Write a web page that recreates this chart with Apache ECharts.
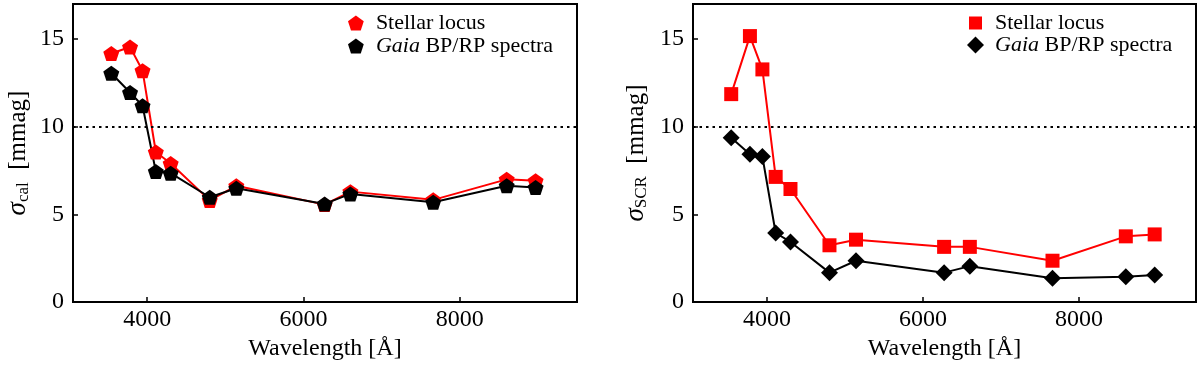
<!DOCTYPE html>
<html>
<head>
<meta charset="utf-8">
<script src="https://cdn.jsdelivr.net/npm/echarts@6/dist/echarts.min.js"></script>
<style>
html,body{margin:0;padding:0;background:#fff;}
#chart{width:1200px;height:366px;}
</style>
</head>
<body>
<div id="chart"></div>
<script>
// ---- data ----
const wavelengths = [3540, 3780, 3940, 4110, 4300, 4800, 5140, 6270, 6600, 7660, 8600, 8970];
const calStellar = [14.18, 14.55, 13.2, 8.56, 7.9, 5.8, 6.63, 5.56, 6.3, 5.83, 7.0, 6.92];
const calGaia = [13.05, 11.95, 11.2, 7.45, 7.35, 5.98, 6.49, 5.6, 6.17, 5.7, 6.63, 6.54];
const scrStellar = [11.86, 15.17, 13.27, 7.14, 6.45, 3.24, 3.56, 3.15, 3.15, 2.36, 3.75, 3.86];
const scrGaia = [9.37, 8.43, 8.3, 3.94, 3.43, 1.68, 2.36, 1.68, 2.05, 1.36, 1.45, 1.54];
const xTicks = [4000, 6000, 8000];
const yTicks = [0, 5, 10, 15];
const threshold = 10;
const seriesNames = ['Stellar locus', 'Gaia BP/RP spectra'];

const FONT = 'Liberation Serif';
const PENT = 'path://M0,-1L0.951,-0.309L0.588,0.809L-0.588,0.809L-0.951,-0.309Z';

function pairs(xs, ys) { return xs.map((x, i) => [x, ys[i]]); }

function xAxisFor(gi) {
  return {
    gridIndex: gi, type: 'value', min: 3050, max: 9500,
    axisLine: {show: true, lineStyle: {color: '#000', width: 2}},
    axisTick: {show: true, inside: true, length: 5, customValues: xTicks, lineStyle: {color: '#000', width: 1.5}},
    axisLabel: {customValues: xTicks, margin: 6, color: '#000', fontFamily: FONT, fontSize: 24, formatter: v => String(v)},
    splitLine: {show: false},
    name: 'Wavelength [Å]', nameLocation: 'middle', nameGap: 30,
    nameTextStyle: {color: '#000', fontFamily: FONT, fontSize: 24}
  };
}
function yAxisFor(gi, sub, gap) {
  return {
    gridIndex: gi, type: 'value', min: 0, max: 17,
    axisLine: {show: true, lineStyle: {color: '#000', width: 2}},
    axisTick: {show: true, inside: true, length: 5, customValues: yTicks, lineStyle: {color: '#000', width: 1.5}},
    axisLabel: {customValues: yTicks, margin: 9, color: '#000', fontFamily: FONT, fontSize: 24, formatter: v => String(v)},
    splitLine: {show: false},
    name: '{s|σ}{sub|' + sub + '}  [mmag]', nameLocation: 'middle', nameRotate: 90, nameGap: gap,
    nameTextStyle: {
      color: '#000', fontFamily: FONT, fontSize: 25,
      rich: {
        s: {fontFamily: FONT, fontSize: 27, fontStyle: 'italic', color: '#000'},
        sub: {fontFamily: FONT, fontSize: 17, color: '#000', padding: [11, 0, 0, 0]}
      }
    }
  };
}
const markLine = {
  silent: true, symbol: ['none', 'none'], label: {show: false},
  lineStyle: {color: '#000', width: 2, type: [2.5, 4]},
  data: [{yAxis: threshold}]
};
function legendFor(name, icon, left, top, w, h, pad) {
  return {
    data: [{name: name, icon: icon}], orient: 'vertical', left: left, top: top,
    padding: 0, itemWidth: w, itemHeight: h, selectedMode: false,
    formatter: n => n === seriesNames[1] ? '{i|Gaia} BP/RP spectra' : n,
    textStyle: {
      color: '#000', fontFamily: FONT, fontSize: 22, lineHeight: 22, padding: [0, 0, 0, pad],
      rich: {i: {fontFamily: FONT, fontSize: 22, fontStyle: 'italic', color: '#000'}}
    }
  };
}
function lineSeries(name, gi, data, color, symbol, size, extra) {
  return Object.assign({
    name: name, type: 'line', xAxisIndex: gi, yAxisIndex: gi,
    data: data, symbol: symbol, symbolSize: size, showSymbol: true,
    lineStyle: {color: color, width: 2}, itemStyle: {color: color},
    emphasis: {disabled: true}
  }, extra || {});
}

const chart = echarts.init(document.getElementById('chart'), null, {renderer: 'canvas'});
chart.setOption({
  animation: false,
  backgroundColor: '#fff',
  grid: [
    {left: 73, top: 4, width: 504, height: 300, show: true, borderColor: '#000', borderWidth: 2, backgroundColor: 'transparent'},
    {left: 693, top: 4, width: 503, height: 300, show: true, borderColor: '#000', borderWidth: 2, backgroundColor: 'transparent'}
  ],
  xAxis: [xAxisFor(0), xAxisFor(1)],
  yAxis: [yAxisFor(0, 'cal', 41), yAxisFor(1, 'SCR', 43)],
  legend: [
    legendFor(seriesNames[0], PENT, 348, 12, 16, 15, 7),
    legendFor(seriesNames[1], PENT, 348, 35, 16, 15, 7),
    legendFor(seriesNames[0], 'rect', 969, 12, 13, 13, 8),
    legendFor(seriesNames[1], 'diamond', 967, 34, 17, 17, 6)
  ],
  series: [
    lineSeries(seriesNames[0], 0, pairs(wavelengths, calStellar), '#ff0000', PENT, [16, 15], {markLine: markLine}),
    lineSeries(seriesNames[1], 0, pairs(wavelengths, calGaia), '#000000', PENT, [16, 15]),
    lineSeries(seriesNames[0], 1, pairs(wavelengths, scrStellar), '#ff0000', 'rect', 14, {markLine: markLine}),
    lineSeries(seriesNames[1], 1, pairs(wavelengths, scrGaia), '#000000', 'diamond', 17)
  ]
});
</script>
</body>
</html>
